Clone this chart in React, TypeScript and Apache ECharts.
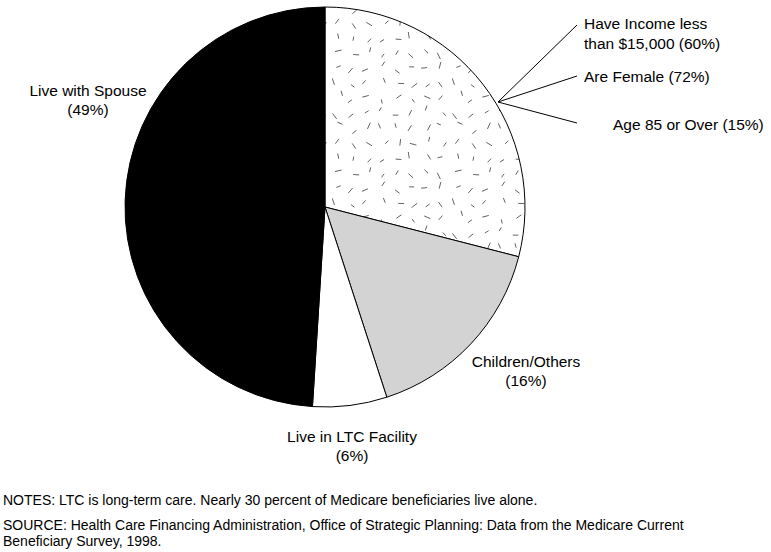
import React, { useEffect, useRef } from "react";
import * as echarts from "echarts";

const sliceNames = ["Live Alone", "Children/Others", "Live in LTC Facility", "Live with Spouse"];
const sliceValues = [29, 16, 6, 49];
const sliceLabels = ["", "Children/Others\n(16%)", "Live in LTC Facility\n(6%)", "Live with Spouse\n(49%)"];
const aloneTraits = ["Have Income less\nthan $15,000 (60%)", "Are Female (72%)", "Age 85 or Over (15%)"];
const notesText = "NOTES: LTC is long-term care. Nearly 30 percent of Medicare beneficiaries live alone.";
const sourceText =
  "SOURCE: Health Care Financing Administration, Office of Strategic Planning: Data from the Medicare Current\nBeneficiary Survey, 1998.";

function makeDashPattern(): HTMLCanvasElement {
  const size = 120;
  const c = document.createElement("canvas");
  c.width = size;
  c.height = size;
  const ctx = c.getContext("2d")!;
  ctx.fillStyle = "#ffffff";
  ctx.fillRect(0, 0, size, size);
  ctx.strokeStyle = "#505050";
  ctx.lineWidth = 0.9;
  let seed = 12345;
  const rnd = () => {
    seed = (seed * 1103515245 + 12345) % 2147483648;
    return seed / 2147483648;
  };
  const cells = 8;
  const step = size / cells;
  for (let i = 0; i < cells; i++) {
    for (let j = 0; j < cells; j++) {
      const cx = i * step + step * (0.2 + 0.6 * rnd());
      const cy = j * step + step * (0.2 + 0.6 * rnd());
      const a = rnd() * Math.PI;
      const len = 4 + rnd() * 3;
      const dx = (Math.cos(a) * len) / 2;
      const dy = (Math.sin(a) * len) / 2;
      ctx.beginPath();
      ctx.moveTo(cx - dx, cy - dy);
      ctx.lineTo(cx + dx, cy + dy);
      ctx.stroke();
    }
  }
  return c;
}

export default function App() {
  const ref = useRef<HTMLDivElement>(null);
  useEffect(() => {
    document.body.style.margin = "0";
    const chart = echarts.init(ref.current!, null, { renderer: "svg" });
    const pattern = makeDashPattern();
    const colors: any[] = [{ image: pattern, repeat: "repeat" }, "#d3d3d3", "#ffffff", "#000000"];
    const font = "Liberation Sans, Arial, Helvetica, sans-serif";
    const labelPos = [
      [0, 0],
      [526, 371],
      [352, 446],
      [88, 100],
    ];
    const hub = [498, 102];
    const traitEnds = [
      [577, 25],
      [577, 76],
      [577, 123],
    ];
    const traitText = [
      [584, 33],
      [584, 76],
      [613, 124],
    ];
    const graphics: any[] = [];
    sliceLabels.forEach((t, i) => {
      if (!t) return;
      graphics.push({
        type: "text",
        x: labelPos[i][0],
        y: labelPos[i][1],
        style: {
          text: t,
          fill: "#000",
          font: `15.5px ${font}`,
          textAlign: "center",
          textVerticalAlign: "middle",
          lineHeight: 19,
        },
      });
    });
    aloneTraits.forEach((t, i) => {
      graphics.push({
        type: "line",
        shape: { x1: hub[0], y1: hub[1], x2: traitEnds[i][0], y2: traitEnds[i][1] },
        style: { stroke: "#000", lineWidth: 1 },
      });
      graphics.push({
        type: "text",
        x: traitText[i][0],
        y: traitText[i][1],
        style: {
          text: t,
          fill: "#000",
          font: `15.5px ${font}`,
          textAlign: "left",
          textVerticalAlign: "middle",
          lineHeight: 20,
        },
      });
    });
    graphics.push({
      type: "text",
      x: 3,
      y: 500,
      style: { text: notesText, fill: "#000", font: `14px ${font}`, textVerticalAlign: "middle" },
    });
    graphics.push({
      type: "text",
      x: 3,
      y: 533,
      style: { text: sourceText, fill: "#000", font: `14px ${font}`, textVerticalAlign: "middle", lineHeight: 16 },
    });
    chart.setOption({
      animation: false,
      backgroundColor: "#ffffff",
      series: [
        {
          type: "pie",
          center: [325, 207],
          radius: 200,
          startAngle: 90,
          clockwise: true,
          label: { show: false },
          labelLine: { show: false },
          emphasis: { disabled: true },
          itemStyle: { borderColor: "#000", borderWidth: 1 },
          data: sliceNames.map((n, i) => ({ name: n, value: sliceValues[i], itemStyle: { color: colors[i] } })),
        },
      ],
      graphic: graphics,
    });
    return () => chart.dispose();
  }, []);
  return <div ref={ref} style={{ width: 771, height: 552 }} />;
}
